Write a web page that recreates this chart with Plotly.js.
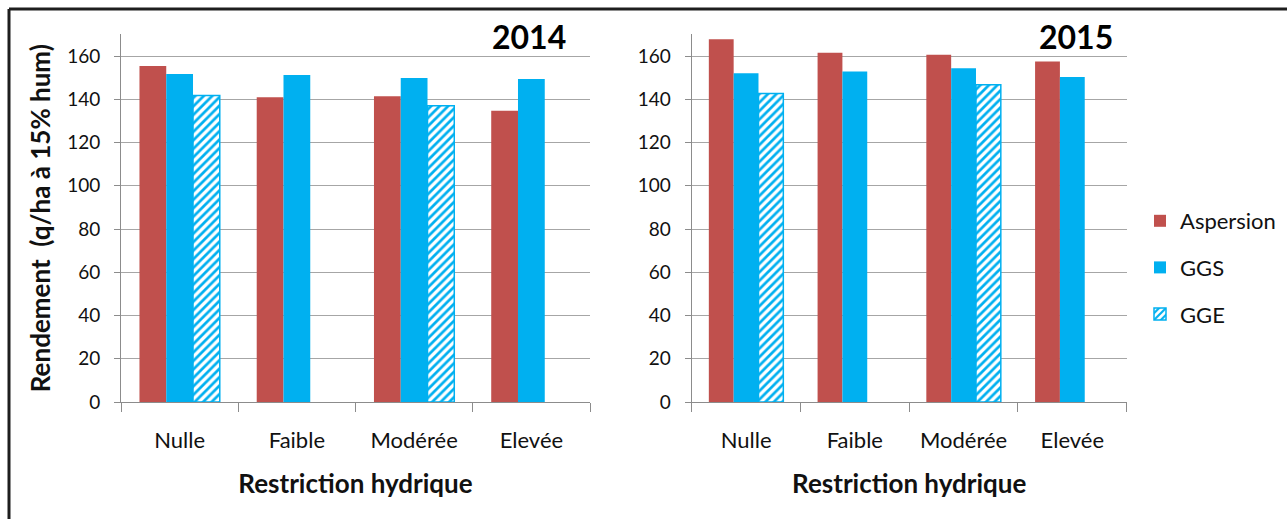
<!DOCTYPE html>
<html>
<head>
<meta charset="utf-8">
<script src="https://cdn.plot.ly/plotly-3.0.1.min.js"></script>
<style>
  html, body { margin: 0; padding: 0; background: #fff; }
  #chart { width: 1287px; height: 519px; }
</style>
</head>
<body>
<div id="chart"></div>
<script>
const categories = ["Nulle", "Faible", "Modérée", "Elevée"];
const seriesNames = ["Aspersion", "GGS", "GGE"];
const asp2014 = [155.4, 140.9, 141.4, 134.7];
const ggs2014 = [151.7, 151.2, 149.8, 149.4];
const gge2014 = [141.7, null, 137.0, null];
const asp2015 = [167.7, 161.5, 160.6, 157.5];
const ggs2015 = [152.0, 152.9, 154.3, 150.3];
const gge2015 = [142.7, null, 146.7, null];
const yearLabels = ["2014", "2015"];
const yTickVals = [0, 20, 40, 60, 80, 100, 120, 140, 160];
const xTitle = "Restriction hydrique";
const yTitle = "Rendement  (q/ha à 15% hum)";

const RED = "#C0504D";
const BLUE = "#00B0F0";
const FONT = "Lato, 'Open Sans', sans-serif";
const W = 1287, H = 519;

function solid(name, y, color, xa, ya, show) {
  return {
    type: "bar", name: name, x: categories, y: y,
    xaxis: xa, yaxis: ya, showlegend: show, legendgroup: name,
    marker: { color: color, line: { width: 0 } }
  };
}
function hatched(name, y, xa, ya, show) {
  return {
    type: "bar", name: name, x: categories, y: y,
    xaxis: xa, yaxis: ya, showlegend: show, legendgroup: name,
    marker: {
      color: "#ffffff",
      line: { color: BLUE, width: 1.5 },
      pattern: { shape: "/", fgcolor: BLUE, bgcolor: "#ffffff", size: 6, solidity: 0.45 }
    }
  };
}

const data = [
  solid(seriesNames[0], asp2014, RED, "x", "y", true),
  solid(seriesNames[1], ggs2014, BLUE, "x", "y", true),
  hatched(seriesNames[2], gge2014, "x", "y", true),
  solid(seriesNames[0], asp2015, RED, "x2", "y2", false),
  solid(seriesNames[1], ggs2015, BLUE, "x2", "y2", false),
  hatched(seriesNames[2], gge2015, "x2", "y2", false)
];

const y0px = 402, yTopPx = 34.4;
const yDom = [(H - y0px) / H, (H - yTopPx) / H];

function xAxis(d) {
  return {
    domain: d, type: "category", tickson: "boundaries",
    ticks: "outside", ticklen: 9, tickcolor: "#8C8C8C", tickwidth: 1,
    showline: true, linecolor: "#8C8C8C", linewidth: 1,
    showgrid: false, zeroline: false,
    tickfont: { family: FONT, size: 22, color: "#111" },
    ticklabelstandoff: 19,
    title: { text: xTitle, font: { family: FONT, size: 26, color: "#111", weight: "bold" }, standoff: 22 }
  };
}
function yAxis(withTitle, anchor) {
  const a = {
    domain: yDom, range: [0, 170], anchor: anchor,
    tickvals: yTickVals, ticks: "outside", ticklen: 6, tickcolor: "#8C8C8C",
    showline: true, linecolor: "#8C8C8C", linewidth: 1,
    showgrid: true, gridcolor: "#A6A6A6", gridwidth: 1, zeroline: false,
    tickfont: { family: FONT, size: 19, color: "#111" },
    ticklabelstandoff: 10
  };
  if (withTitle) {
    a.title = { text: yTitle, font: { family: FONT, size: 26, color: "#111", weight: "bold" }, standoff: 9 };
  }
  return a;
}

const layout = {
  width: W, height: H,
  margin: { l: 0, r: 0, t: 0, b: 0, pad: 0 },
  paper_bgcolor: "#fff", plot_bgcolor: "#fff",
  barmode: "group", bargap: 0.315, bargroupgap: 0,
  xaxis: xAxis([121 / W, 590 / W]),
  yaxis: yAxis(true, "x"),
  xaxis2: xAxis([691.7 / W, 1126.7 / W]),
  yaxis2: yAxis(false, "x2"),
  showlegend: true,
  legend: {
    x: 1140 / W, y: (H - 200) / H, xanchor: "left", yanchor: "top",
    font: { family: FONT, size: 22, color: "#111" },
    tracegroupgap: 15, itemwidth: 30,
    bgcolor: "rgba(0,0,0,0)"
  },
  annotations: [
    { text: yearLabels[0], xref: "paper", yref: "paper", x: 529 / W, y: (H - 37) / H,
      xanchor: "center", yanchor: "middle", showarrow: false,
      font: { family: FONT, size: 32, color: "#000", weight: "bold" } },
    { text: yearLabels[1], xref: "paper", yref: "paper", x: 1076 / W, y: (H - 37) / H,
      xanchor: "center", yanchor: "middle", showarrow: false,
      font: { family: FONT, size: 32, color: "#000", weight: "bold" } }
  ],
  shapes: [
    { type: "line", xref: "paper", yref: "paper", x0: 9 / W, x1: 1.01, y0: (H - 9) / H, y1: (H - 9) / H,
      line: { color: "#1E1E1E", width: 3 } },
    { type: "line", xref: "paper", yref: "paper", x0: 9 / W, x1: 9 / W, y0: (H - 9) / H, y1: -0.01,
      line: { color: "#1E1E1E", width: 3 } }
  ]
};

Plotly.newPlot("chart", data, layout, { staticPlot: true, displayModeBar: false });
</script>
</body>
</html>
